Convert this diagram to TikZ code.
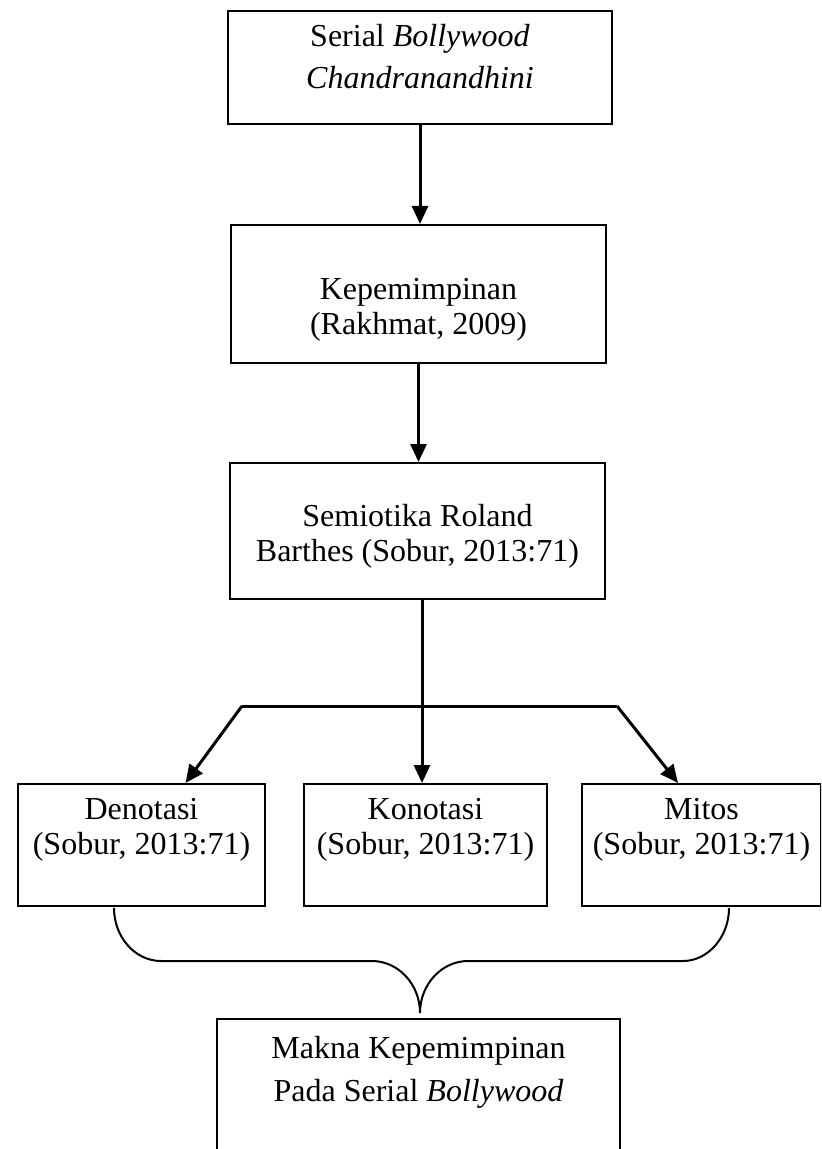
\documentclass[tikz,border=0pt]{standalone}
\usepackage{fontspec}
\setmainfont{Liberation Serif}
\usetikzlibrary{arrows.meta}
\newcommand{\isi}[4]{\parbox[c][#2][t]{#1}{\centering\vspace*{#3}\strut #4}}

\begin{document}
\begin{tikzpicture}[x=0.5pt, y=-0.5pt,
  kotak/.style={draw, line width=1pt, inner sep=0pt, anchor=north west,
    font=\fontsize{16pt}{17.5pt}\selectfont},
  panah/.style={line width=1.5pt, -{Triangle[length=9pt, width=8pt]}},
  garis/.style={line width=1.5pt},
  kurung/.style={line width=1pt}]

\path[use as bounding box, clip] (0,0) rectangle (821,1149);

%% alur atas
\node[kotak] (serial) at (227,10)
  {\isi{192pt}{56.5pt}{5.75pt}{Serial \textit{Bollywood}\\[3.5pt] \textit{Chandranandhini}}};
\node[kotak] (kepemimpinan) at (230,224)
  {\isi{187.5pt}{69pt}{25pt}{Kepemimpinan\\(Rakhmat, 2009)}};
\node[kotak] (semiotika) at (229,462)
  {\isi{187.5pt}{68pt}{19.25pt}{Semiotika Roland\\Barthes (Sobur, 2013:71)}};

%% tiga tingkat makna
\node[kotak] (denotasi) at (17,783)
  {\isi{123.5pt}{61pt}{5.25pt}{Denotasi\\(Sobur, 2013:71)}};
\node[kotak] (konotasi) at (303,783)
  {\isi{121.5pt}{61pt}{5.25pt}{Konotasi\\(Sobur, 2013:71)}};
\node[kotak] (mitos) at (581,783)
  {\isi{119.5pt}{61pt}{5.25pt}{Mitos\\(Sobur, 2013:71)}};

%% hasil
\node[kotak] (makna) at (216,1018)
  {\isi{201.5pt}{80pt}{7.5pt}{Makna Kepemimpinan\\[4pt] Pada Serial \textit{Bollywood}}};

%% panah
\draw[panah] (serial.south) -- (serial.south |- kepemimpinan.north);
\draw[panah] (kepemimpinan.south) -- (kepemimpinan.south |- semiotika.north);

\coordinate (cabang) at (422,706);
\coordinate (kiri) at (242,706);
\coordinate (kanan) at (617,706);
\draw[panah] (semiotika.south -| cabang) -- (konotasi.north -| cabang);
\draw[garis] (kiri) -- (kanan);
\draw[panah] (kiri) -- ([xshift=22pt]denotasi.north);
\draw[panah] (kanan) -- ([xshift=-11.75pt]mitos.north);

%% kurung kurawal
\draw[kurung] (114,908) .. controls (114,937) and (135,961) .. (161,961)
  -- (372,961) .. controls (398,961) and (420,984) .. (420,1013)
  .. controls (420,984) and (442,961) .. (468,961)
  -- (683,961) .. controls (708,961) and (729,937) .. (729,908);

\end{tikzpicture}
\end{document}
